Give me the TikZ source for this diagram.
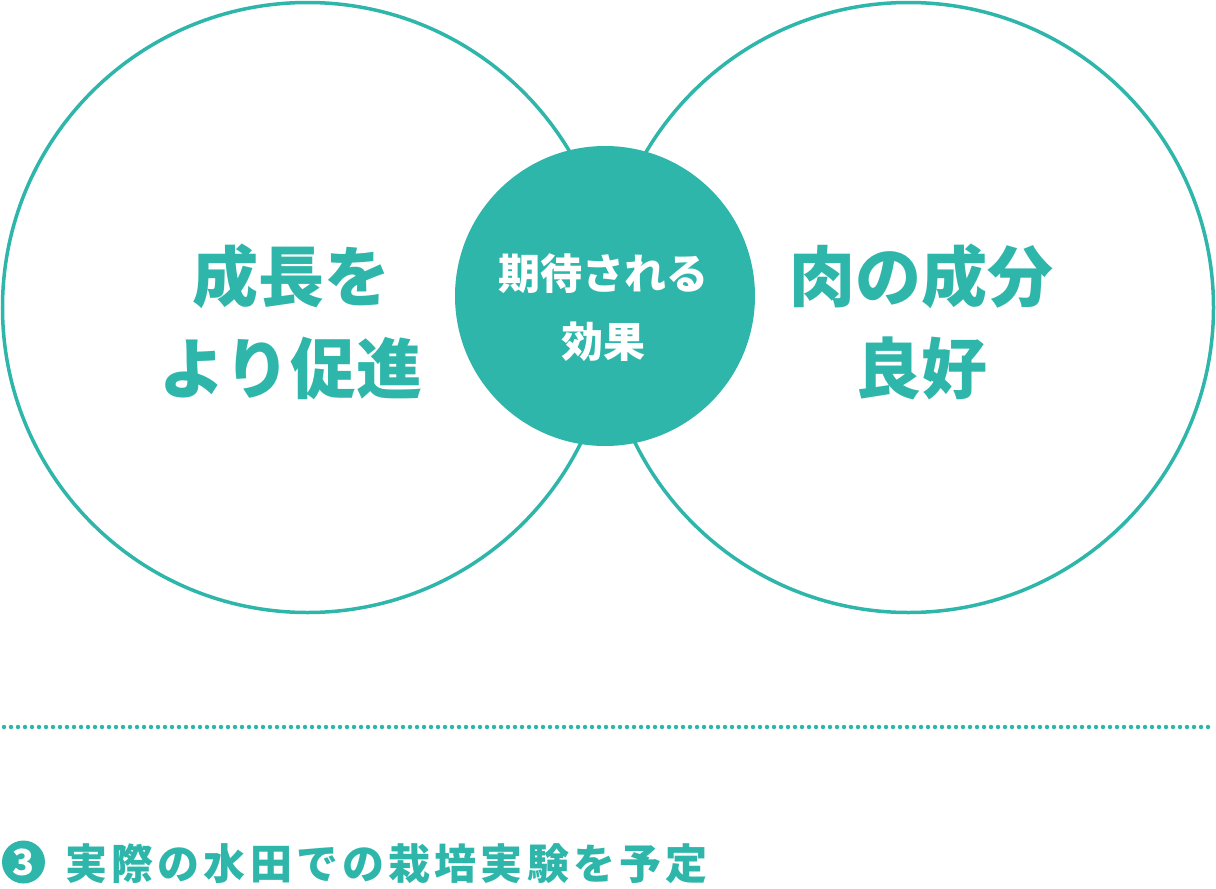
\documentclass[tikz,border=0pt]{standalone}
\usepackage{fontspec}
\newfontfamily\cjk{Noto Sans CJK JP}
\newfontfamily\cjksp{Noto Sans CJK JP}[LetterSpace=10]
\definecolor{teal}{RGB}{47,182,170}
\tikzset{
  ring/.style={draw=teal,line width=3.5pt,circle,inner sep=0pt},
  bigtext/.style={text=teal,align=center,font=\cjk\bfseries\fontsize{66}{92}\selectfont,inner sep=0pt},
  midtext/.style={text=white,align=center,font=\cjk\bfseries\fontsize{42}{68}\selectfont,inner sep=0pt},
}
\begin{document}
\begin{tikzpicture}[x=1pt,y=-1pt]
\useasboundingbox (0,0) rectangle (1216,889);
\node[ring,minimum size=610pt] (left) at (307.5,307.5) {};
\node[ring,minimum size=610pt] (right) at (908.5,307.5) {};
\node[circle,fill=teal,minimum size=300pt,inner sep=0pt] (mid) at (605,296) {};
\node[bigtext] (lt) at (291,322) {成長を\\より促進};
\node[bigtext] (rt) at (921,322) {肉の成分\\良好};
\node[midtext] (mt) at (603,308) {期待される\\効果};
\coordinate (d1) at (4,727);
\coordinate (d2) at (1214,727);
\draw[teal,line width=4.5pt,line cap=round,dash pattern=on 0pt off 7pt] (d1) -- (d2);
\node[circle,fill=teal,minimum size=43pt,inner sep=0pt,text=white,font=\cjk\bfseries\fontsize{36}{36}\selectfont] (num) at (23.5,862) {3};
\node[anchor=west,inner sep=0pt,text=teal,font=\cjksp\bfseries\fontsize{42}{42}\selectfont] (bt) at (65,864) {実際の水田での栽培実験を予定};
\end{tikzpicture}
\end{document}
